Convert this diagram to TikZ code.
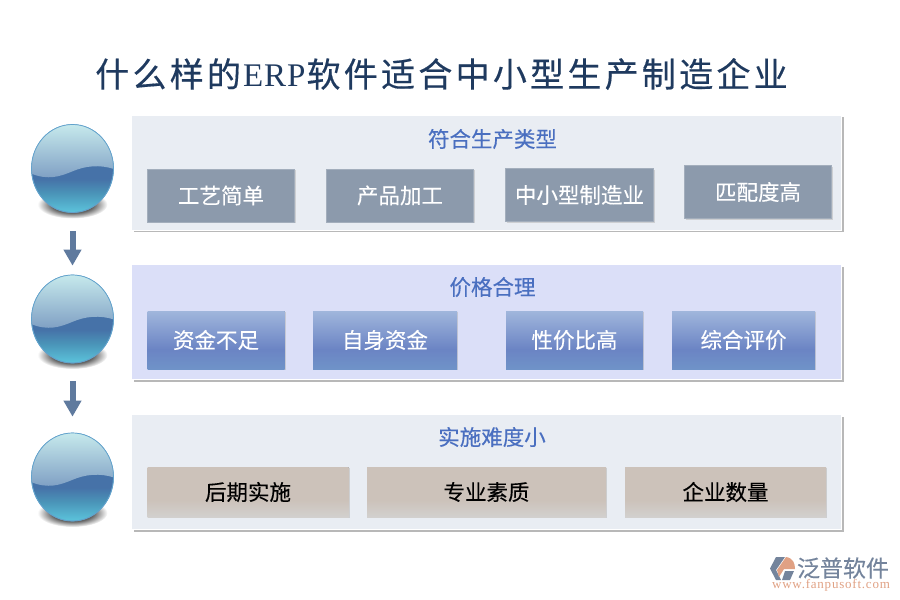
\documentclass[tikz,border=0pt]{standalone}
\usepackage{fontspec}
\usepackage{tikz}
\usetikzlibrary{arrows.meta,shapes.geometric,shadows}
\setmainfont[FakeBold=0.3]{Noto Sans CJK SC}
\newfontfamily\titlefont[LetterSpace=9.6,FakeBold=0.4]{Noto Sans CJK SC}
\newfontfamily\titlelatin[LetterSpace=3]{Liberation Serif}
\newfontfamily\webfont[LetterSpace=6]{Liberation Serif}
\definecolor{titleblue}{HTML}{1F3A5F}
\definecolor{headblue}{HTML}{4A6FC0}
\definecolor{arrowblue}{HTML}{5F7A9E}
\definecolor{logogrey}{HTML}{74849C}
\definecolor{logoorange}{HTML}{E0A184}
\definecolor{ballbot}{HTML}{5CC4DC}
\definecolor{ballmid}{HTML}{4A94B8}
\definecolor{balldark}{HTML}{4672A8}
\definecolor{balltop}{HTML}{C6E9EC}
\definecolor{ballwave}{HTML}{7C9CC2}
\definecolor{ballline}{HTML}{62A2CC}
\definecolor{bluebot}{HTML}{6F93C8}
\definecolor{bluemid}{HTML}{6B84C4}
\definecolor{bluetop}{HTML}{A0B6DC}
\definecolor{tanbot}{HTML}{D2D0CE}
\definecolor{tantop}{HTML}{CCC2BA}
\definecolor{panelgrey}{HTML}{E9EDF3}
\definecolor{panelblue}{HTML}{DBDFF8}
\definecolor{boxgrey}{HTML}{8C9AAC}
\definecolor{boxline}{HTML}{A3AEBC}
\pgfdeclareverticalshading{ballshade}{100bp}{color(0bp)=(ballbot);
  color(25bp)=(ballbot); color(36bp)=(ballmid); color(44bp)=(balldark); color(100bp)=(balldark)}
\pgfdeclareverticalshading{bluebox}{100bp}{color(0bp)=(bluebot); color(25bp)=(bluebot);
  color(42bp)=(bluemid); color(75bp)=(bluetop); color(100bp)=(bluetop)}
\pgfdeclareverticalshading{tanbox}{100bp}{color(0bp)=(tanbot); color(25bp)=(tanbot);
  color(42bp)=(tantop); color(75bp)=(tantop); color(100bp)=(tantop)}
\pgfdeclareradialshading{shadowshade}{\pgfpoint{0bp}{0bp}}{color(0bp)=(black!75); color(15bp)=(black!60);
  color(25bp)=(white); color(50bp)=(white)}
\begin{document}
\begin{tikzpicture}[x=1pt,y=-1pt,
        panel/.style={draw=white, line width=0.8pt, inner sep=0pt, minimum width=710, minimum height=115,
                        drop shadow={shadow xshift=2pt, shadow yshift=-2pt, fill=black!35, opacity=0.8}},
        head/.style={text=headblue, font=\fontsize{21.5}{24}\selectfont, inner sep=0pt},
        gbox/.style={draw=boxline, fill=boxgrey, text=white, inner sep=0pt,
                        font=\fontsize{21.5}{24}\selectfont,
                        drop shadow={shadow xshift=1pt, shadow yshift=-1pt, fill=black!30, opacity=0.5}},
        bbox/.style={gbox, draw=none, shading=bluebox},
        tbox/.style={gbox, draw=none, shading=tanbox, text=black},
        ball/.style={ellipse, draw=ballline, line width=0.7pt, inner sep=0pt,
                        minimum width=82, minimum height=88, shading=ballshade},
        arr/.style={draw=arrowblue, line width=6pt, -{Triangle[width=17pt,length=16pt]}}]
    \useasboundingbox (0,0) rectangle (900,600);

    \node[inner sep=0pt, text=titleblue] (title) at (441.5,74)
        {\fontsize{34}{38}\titlefont 什么样的\hspace{2pt}{\fontsize{33}{38}\titlelatin ERP}\hspace{1pt}软件适合中小型生产制造企业};

    % panels
    \node[panel, fill=panelgrey] (panelA) at (486.5,172.5) {};
    \node[panel, fill=panelblue] (panelB) at (486.5,322) {};
    \node[panel, fill=panelgrey] (panelC) at (486.5,472) {};

    \node[head] (headA) at (492.5,139) {符合生产类型};
    \node[head] (headB) at (492.5,287) {价格合理};
    \node[head] (headC) at (492,437) {实施难度小};

    % boxes, first row
    \node[gbox, minimum width=147, minimum height=53] (a1) at (221,195.5) {工艺简单};
    \node[gbox, minimum width=147, minimum height=53] (a2) at (400,195.5) {产品加工};
    \node[gbox, minimum width=148, minimum height=53] (a3) at (579.5,195) {中小型制造业};
    \node[gbox, minimum width=147, minimum height=53] (a4) at (758,192) {匹配度高};

    % boxes, second row
    \node[bbox, minimum width=137, minimum height=58] (b1) at (216,340) {资金不足};
    \node[bbox, minimum width=144, minimum height=58] (b2) at (385,340) {自身资金};
    \node[bbox, minimum width=137, minimum height=58] (b3) at (574.5,340) {性价比高};
    \node[bbox, minimum width=143, minimum height=58] (b4) at (743.5,340) {综合评价};

    % boxes, third row
    \node[tbox, minimum width=201, minimum height=50] (c1) at (248,492) {后期实施};
    \node[tbox, minimum width=239, minimum height=50] (c2) at (486.5,492) {专业素质};
    \node[tbox, minimum width=201, minimum height=50] (c3) at (725.5,492) {企业数量};

    % balls
    \foreach \nm/\cy in {ballA/168.5,ballB/319,ballC/477} {
        \shade[shading=shadowshade] (72.5,\cy+36) ellipse (35 and 14);
        \node[ball] (\nm) at (72.5,\cy) {};
        \begin{scope}
            \clip (72.5,\cy) ellipse (41 and 44);
            \shade[top color=balltop, bottom color=ballwave]
                (31,\cy-44) -- (114,\cy-44) -- (114,\cy+0.5)
                .. controls (100,\cy-4) and (86,\cy-3) .. (72,\cy+3)
                .. controls (60,\cy+8) and (48,\cy+12) .. (31,\cy+5) -- cycle;
        \end{scope}
        \draw[ballline, line width=0.7pt] (72.5,\cy) ellipse (41 and 44);
    }

    \draw[arr, shorten <=18.5pt, shorten >=9pt] (ballA) -- (ballB);
    \draw[arr, shorten <=18pt, shorten >=16pt] (ballB) -- (ballC);

    % logo
    \fill[logogrey] (770,568.5) -- (776,557) -- (785,557) -- (776,570) -- (781,580) -- (776,580) -- cycle;
    \fill[logoorange] (786,557) .. controls (793,558) and (795,563) .. (795,569) -- (784,569)
        -- (779,577) -- (777,570) -- cycle;
    \fill[logogrey] (785,571) -- (794,571) -- (790,580) -- (782,580) -- cycle;
    \node[inner sep=0pt, text=logogrey] (logoname) at (843,568)
        {\fontsize{23}{25}\selectfont 泛普软件};
    \node[inner sep=0pt, text=logoorange] (logoweb) at (831,585)
        {\fontsize{13}{14}\webfont www.fanpusoft.com};
\end{tikzpicture}
\end{document}
